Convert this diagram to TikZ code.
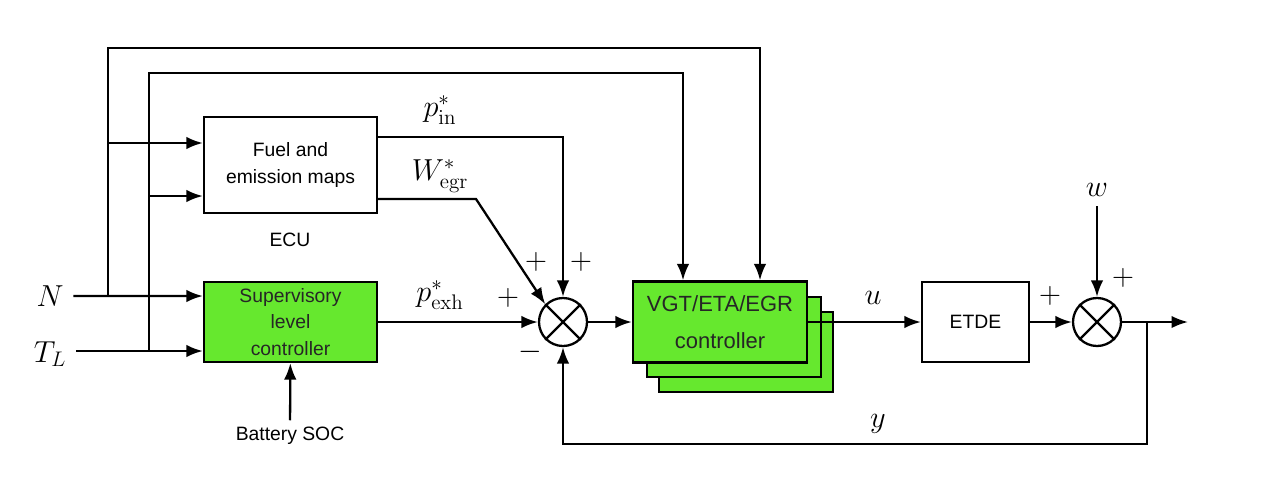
\documentclass[tikz,border=0pt]{standalone}
\usepackage[no-math]{fontspec}
\setmainfont{Liberation Sans}
\usepackage{xcolor}
\usepackage{tikz}
\usetikzlibrary{positioning, arrows.meta, calc}

\definecolor{ctrlgreen}{RGB}{102,232,46}

\begin{document}
\begin{tikzpicture}[x=0.2mm, y=-0.2mm, line width=1.3pt,
    block/.style={draw, fill=#1, minimum width=3.46cm, align=center, inner sep=2pt,
        font=\fontsize{11}{15}\selectfont},
    sumnode/.style={circle, draw, fill=white, minimum size=0.96cm, inner sep=0pt},
    lbl/.style={font=\fontsize{18}{20}\selectfont, inner sep=1pt},
    txt/.style={font=\fontsize{11}{15}\selectfont},
    arr/.style={-{Latex[length=3.3mm, width=2.5mm]}}
]
\useasboundingbox (0,0) rectangle (1262,490);

% blocks
\node[block=white, minimum height=1.92cm] (fuel) at (290.5,165) {Fuel and\\emission maps};
\node[txt] (ecu) at (290,240) {ECU};
\node[block=ctrlgreen, minimum height=1.6cm, text=black!85] (sup) at (290.5,322) {Supervisory\\level\\controller};
\node[txt] (bat) at (290,436) {Battery SOC};

\node[block=ctrlgreen, minimum width=3.48cm, minimum height=1.6cm] (ctrl3) at (746,352) {};
\node[block=ctrlgreen, minimum width=3.48cm, minimum height=1.6cm] (ctrl2) at (734,337) {};
\node[block=ctrlgreen, minimum width=3.48cm, minimum height=1.62cm, text=black!85,
    font=\fontsize{12.5}{15}\selectfont] (ctrl) at (720,322) {VGT/ETA/EGR\\[6pt]controller};

\node[block=white, minimum width=2.14cm, minimum height=1.6cm] (etde) at (975.5,322) {ETDE};

\node[sumnode] (s1) at (563,322) {};
\node[sumnode] (s2) at (1097,322) {};
\draw (s1.north west) -- (s1.south east) (s1.north east) -- (s1.south west);
\draw (s2.north west) -- (s2.south east) (s2.north east) -- (s2.south west);

% inputs
\node[lbl] (N) at (50,296) {$N$};
\node[lbl] (TL) at (50,354) {$T_L$};
\node[lbl] (w) at (1097,190) {$w$};

\coordinate (jn) at (108,296);
\coordinate (jt) at (149,351);
\coordinate (tn) at (108,48);
\coordinate (tt) at (149,73);
\coordinate (fin1) at ([yshift=0.44cm]fuel.west);
\coordinate (fin2) at ([yshift=-0.62cm]fuel.west);
\coordinate (sin1) at ([yshift=0.52cm]sup.west);
\coordinate (sin2) at ([yshift=-0.58cm]sup.west);
\coordinate (fout1) at ([yshift=0.56cm]fuel.east);
\coordinate (fout2) at ([yshift=-0.68cm]fuel.east);
\coordinate (bend) at (476,199);
\coordinate (fb) at (1147,322);
\coordinate (fbc) at (1147,444);
\coordinate (out) at (1188,322);

\draw[arr] ([xshift=4pt]N.east) -- (sin1);
\draw[arr] ([xshift=4pt]TL.east |- sin2) -- (sin2);
\draw[arr] (jn) -- (tn) -| ([xshift=0.8cm]ctrl.north);
\draw[arr] (jt) -- (tt) -| ([xshift=-0.74cm]ctrl.north);
\draw[arr] (fin1 -| tn) -- (fin1);
\draw[arr] (fin2 -| tt) -- (fin2);
\draw[arr] (bat) -- (sup);

% references to the summing junction
\draw[arr] (fout1) -| (s1.north);
\draw[arr] (fout2) -- (bend) -- (s1.north west);
\draw[arr] (sup) -- (s1);
\draw[arr] (s1) -- (ctrl);

% plant side
\draw[arr] (ctrl) -- (etde);
\draw[arr] (etde) -- (s2);
\draw[arr] ([yshift=-4pt]w.south) -- (s2);
\draw[arr] (s2) -- (out);
\draw[arr] (fb) -- (fbc) -| (s1.south);

% signal labels
\node[lbl] (pin) at (440,110) {$p^{*}_{\mathrm{in}}$};
\node[lbl] (wegr) at (440,176) {$W^{*}_{\mathrm{egr}}$};
\node[lbl] (pexh) at (440,295) {$p^{*}_{\mathrm{exh}}$};
\node[lbl] (u) at (873,298) {$u$};
\node[lbl] (y) at (878,424) {$y$};

\node[lbl] (pl1) at (536,262) {$+$};
\node[lbl] (pl2) at (581,262) {$+$};
\node[lbl] (pl3) at (508,298) {$+$};
\node[lbl] (mi1) at (530,352) {$-$};
\node[lbl] (pl4) at (1050,296) {$+$};
\node[lbl] (pl5) at (1123,278) {$+$};

\end{tikzpicture}
\end{document}
